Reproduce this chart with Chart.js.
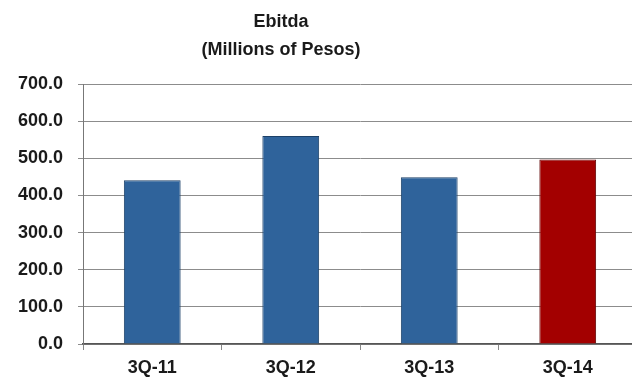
<!DOCTYPE html>
<html lang="en">

<head>
    <meta charset="UTF-8">
    <title>Ebitda</title>
    <script src="https://cdn.jsdelivr.net/npm/chart.js"></script>
    <style>
        body { margin: 0; background: #fff; overflow: hidden; }
        #wrap { position: relative; width: 632px; height: 381px; overflow: hidden; }
        #title {
            position: absolute; left: 0; top: 7px; width: 562px;
            text-align: center; font: bold 18px "Liberation Sans", Arial, sans-serif;
            color: #1a1a1a; line-height: 28px;
        }
    </style>
</head>

<body>
    <div id="wrap">
        <div id="title">Ebitda<br>(Millions of Pesos)</div>
        <!-- 畫布比視窗寬一點，最右邊被裁掉 -->
        <canvas id="myChart" width="637" height="381"></canvas>
    </div>
    <script>
        // 資料
        const quarters = ['3Q-11', '3Q-12', '3Q-13', '3Q-14'];
        const ebitda = [441, 560, 449, 497];
        const barColors = ['#2f639b', '#2f639b', '#2f639b', '#a30000'];
        const barBorders = ['#1d4168', '#1d4168', '#1d4168', '#5e0000'];

        const font = { family: '"Liberation Sans", Arial, sans-serif', size: 18, weight: 'bold' };

        const ctx = document.getElementById('myChart');
        new Chart(ctx, {
            type: 'bar',
            data: {
                labels: quarters,
                datasets: [{
                    label: 'Ebitda',
                    data: ebitda,
                    backgroundColor: barColors,
                    borderColor: barBorders,
                    borderWidth: 1,
                    barPercentage: 0.41,
                    categoryPercentage: 1
                }]
            },
            options: {
                responsive: false,
                animation: false,
                layout: { padding: { top: 84, left: 0, right: 0, bottom: 0 } },
                plugins: {
                    legend: { display: false },
                    tooltip: { enabled: false }
                },
                scales: {
                    x: {
                        grid: { drawOnChartArea: false, drawTicks: true, tickLength: 6, color: '#888' },
                        border: { color: '#555', width: 1.5 },
                        ticks: { color: '#1a1a1a', font: font, padding: 7 },
                        afterFit: function (scale) { scale.height = 37; }
                    },
                    y: {
                        min: 0,
                        max: 700,
                        ticks: {
                            stepSize: 100,
                            color: '#1a1a1a',
                            font: font,
                            padding: 15,
                            callback: function (v) { return v.toFixed(1); }
                        },
                        grid: { color: '#8c8c8c', tickLength: 5, lineWidth: 1 },
                        border: { color: '#777' },
                        afterFit: function (scale) { scale.width = 83; }
                    }
                }
            }
        });
    </script>
</body>

</html>
